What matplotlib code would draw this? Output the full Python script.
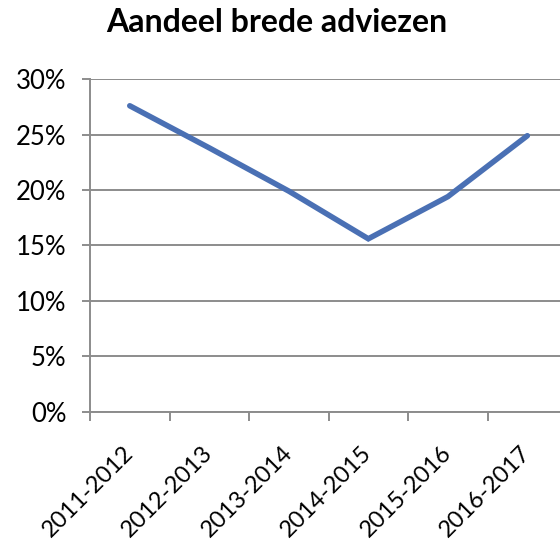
import matplotlib
matplotlib.use('Agg')
import matplotlib.pyplot as plt
from matplotlib.ticker import PercentFormatter

# data
seasons = ['2011-2012', '2012-2013', '2013-2014', '2014-2015', '2015-2016', '2016-2017']
share_broad = [27.6, 23.8, 19.9, 15.6, 19.4, 24.9]
y_ticks = [0, 5, 10, 15, 20, 25, 30]

plt.rcParams['font.family'] = ['Lato', 'DejaVu Sans']

fig = plt.figure(figsize=(5.6, 5.46), dpi=100)
ax = fig.add_axes([0.1607, 0.246, 0.852, 0.609])

grid_col = '#8c8c8c'
x = range(len(seasons))
ax.plot(x, share_broad, color='#4a70b4', lw=4, solid_capstyle='round',
        solid_joinstyle='miter', zorder=3)

ax.set_xlim(-0.5, len(seasons) - 0.5)
ax.set_ylim(0, 30)
ax.set_yticks(y_ticks)
ax.yaxis.set_major_formatter(PercentFormatter(decimals=0))
ax.yaxis.grid(True, color=grid_col, lw=1.4)
ax.set_axisbelow(True)

# category ticks sit between the points, labels under each point
ax.set_xticks([i - 0.5 for i in x])
ax.set_xticklabels([])
ax.set_xticks(list(x), minor=True)
ax.set_xticklabels(seasons, minor=True, rotation=45, ha='right', va='center',
                   rotation_mode='anchor', fontsize=17)
ax.tick_params(axis='x', which='minor', length=0, pad=27)
ax.tick_params(axis='x', which='major', length=6.5, width=1.4, color=grid_col)
ax.tick_params(axis='y', length=6, width=1.4, color=grid_col, labelsize=18.5, pad=11)

for side in ['top', 'right']:
    ax.spines[side].set_visible(False)
for side in ['left', 'bottom']:
    ax.spines[side].set_color(grid_col)
    ax.spines[side].set_linewidth(1.4)

fig.text(0.494, 0.958, 'Aandeel brede adviezen', ha='center', va='center',
         fontsize=23, fontweight='bold')

fig.savefig('out.png', dpi=100)
